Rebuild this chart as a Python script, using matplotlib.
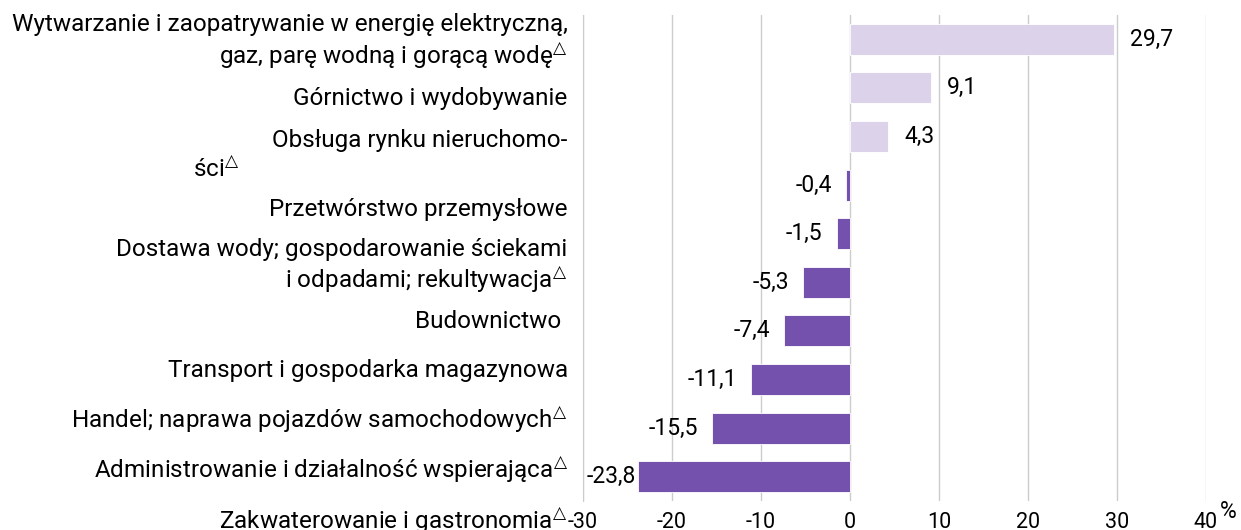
import matplotlib
matplotlib.use("Agg")
import matplotlib.pyplot as plt
from matplotlib.transforms import ScaledTranslation

plt.rcParams['font.family'] = ['Roboto', 'DejaVu Sans']
plt.rcParams['mathtext.fontset'] = 'dejavusans'

TRI = "$^{\\!\\triangle}$"

# dane (od góry do dołu)
categories = [
    "Wytwarzanie i zaopatrywanie w energię elektryczną,\ngaz, parę wodną i gorącą wodę" + TRI,
    "Górnictwo i wydobywanie",
    "Obsługa rynku nieruchomo-",
    "Przetwórstwo przemysłowe",
    "Dostawa wody; gospodarowanie ściekami\ni odpadami; rekultywacja" + TRI,
    "Budownictwo ",
    "Transport i gospodarka magazynowa",
    "Handel; naprawa pojazdów samochodowych" + TRI,
    "Administrowanie i działalność wspierająca" + TRI,
    "Zakwaterowanie i gastronomia" + TRI,
]
values = [29.7, 9.1, 4.3, -0.4, -1.5, -5.3, -7.4, -11.1, -15.5, -23.8]
value_labels = ["29,7", "9,1", "4,3", "-0,4", "-1,5", "-5,3", "-7,4", "-11,1", "-15,5", "-23,8"]
xticks = [-30, -20, -10, 0, 10, 20, 30, 40]

# przesunięcie etykiet kategorii w dół (px), jak na oryginale
label_shift = [-3, 8, 1, 22, 27, 37, 37, 36, 37, 40]

light = '#dcd3ea'
dark = '#7451ad'

fig = plt.figure(figsize=(12.41, 5.30), dpi=100)
ax = fig.add_axes([0.4698, 0.0547, 0.502, 0.917])

ypos = list(range(len(values)))
colors = [light if v > 0 else dark for v in values]
ax.barh(ypos, values, height=0.64, color=colors, edgecolor='white', linewidth=0.6, zorder=3)

ax.set_xlim(-30, 40)
ax.set_ylim(len(values) - 0.5, -0.5)
ax.set_xticks(xticks)
ax.set_xticklabels([str(t) for t in xticks], fontsize=15.5)
ax.tick_params(axis='x', length=0, pad=8)
ax.grid(axis='x', color='#cccccc', linewidth=1, zorder=0)

ax.set_yticks(ypos)
ax.set_yticklabels(categories, fontsize=17.5, ha='right', multialignment='right',
                   linespacing=1.15)
ax.tick_params(axis='y', length=0, pad=11)
for lab, s in zip(ax.get_yticklabels(), label_shift):
    lab.set_transform(lab.get_transform() + ScaledTranslation(0, -s / 100, fig.dpi_scale_trans))

# druga linia "ści" pod etykietą nieruchomości
ax.annotate("ści" + TRI, xy=(0, 2), xycoords=('axes fraction', 'data'),
            xytext=(-390, -32), textcoords='offset pixels', fontsize=17.5,
            ha='left', va='center')

for spine in ['top', 'right', 'bottom']:
    ax.spines[spine].set_visible(False)
ax.spines['left'].set_color('#cccccc')

for y, v, t in zip(ypos, values, value_labels):
    if v > 0:
        ax.annotate(t, xy=(v, y), xytext=(16, 0), textcoords='offset pixels',
                    ha='left', va='center', fontsize=16.5)
    else:
        gap = 14 if v > -20 else 2
        ax.annotate(t, xy=(v, y), xytext=(-gap, 0), textcoords='offset pixels',
                    ha='right', va='center', fontsize=16.5)

fig.text(1228 / 1241, 1 - 512 / 530, "%", fontsize=16.5, ha='center', va='center')

fig.savefig('out.png', dpi=100)
